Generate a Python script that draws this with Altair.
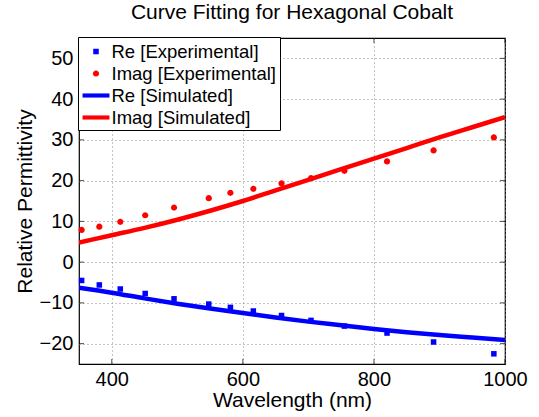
import altair as alt
import pandas as pd

# Experimental data
wl_exp = [354, 381, 413, 451, 495, 548, 581, 616, 659, 704, 755, 820, 891, 983]
re_exp = [-4.5, -5.6, -6.6, -7.7, -9.0, -10.3, -11.1, -12.0, -13.1, -14.3, -15.7, -17.4, -19.6, -22.5]
imag_exp = [7.9, 8.7, 9.9, 11.5, 13.4, 15.7, 17.0, 18.0, 19.3, 20.6, 22.4, 24.7, 27.4, 30.6]

# Simulated (fitted) curves
wl_sim = [350, 400, 450, 500, 550, 600, 650, 700, 750, 800, 850, 900, 950, 1000]
re_sim = [-6.3, -7.5, -8.9, -10.2, -11.4, -12.5, -13.6, -14.6, -15.5, -16.4, -17.2, -17.9, -18.5, -19.1]
imag_sim = [4.8, 6.6, 8.4, 10.4, 12.6, 15.0, 17.6, 20.2, 22.8, 25.4, 28.0, 30.6, 33.1, 35.6]

series_names = ["Re [Experimental]", "Imag [Experimental]", "Re [Simulated]", "Imag [Simulated]"]
series_colors = ["#0000ff", "#ff0000", "#0000ff", "#ff0000"]

x_ticks = [400, 600, 800, 1000]
y_ticks = [-20, -10, 0, 10, 20, 30, 40, 50]

FONT = "Liberation Sans"
W, H = 426, 326
SYM = 529  # symbol area shared by data markers and legend symbols

exp_df = pd.concat([
    pd.DataFrame({"wl": wl_exp, "val": re_exp, "series": series_names[0]}),
    pd.DataFrame({"wl": wl_exp, "val": imag_exp, "series": series_names[1]}),
])
re_sim_df = pd.DataFrame({"wl": wl_sim, "val": re_sim})
imag_sim_df = pd.DataFrame({"wl": wl_sim, "val": imag_sim})

xscale = alt.Scale(domain=[350, 1000], nice=False, zero=False)
yscale = alt.Scale(domain=[-25, 55], nice=False, zero=False)

xaxis = alt.Axis(values=x_ticks, title="Wavelength (nm)", grid=True, gridDash=[1, 3],
                 gridColor="#888888", ticks=False, domain=False, labelPadding=5,
                 titlePadding=0, labelFlush=False, format="d")
yaxis = alt.Axis(values=y_ticks, title="Relative Permittivity", grid=True, gridDash=[1, 3],
                 gridColor="#888888", ticks=False, domain=False, labelPadding=6,
                 titlePadding=4)

# custom symbol paths (unit = sqrt(SYM)/2 = 11.5 px)
line_path = "M-1.17,-0.18H1.17V0.18H-1.17Z"
square_path = "M-0.24,-0.24H0.24V0.24H-0.24Z"
circle_path = "M-0.27,0A0.27,0.27 0 1,0 0.27,0A0.27,0.27 0 1,0 -0.27,0Z"
shape_range = [square_path, circle_path, line_path, line_path]

leg = alt.Legend(title=None, orient="none", legendX=-1, legendY=-1,
                 fillColor="white", strokeColor="black", padding=3,
                 symbolSize=SYM, symbolOffset=3.5, labelOffset=4,
                 labelFontSize=18.5, labelFont=FONT, labelColor="black",
                 rowPadding=1, symbolStrokeWidth=0, labelLimit=300)

points = alt.Chart(exp_df).mark_point(filled=True, opacity=1).encode(
    x=alt.X("wl:Q", scale=xscale, axis=xaxis),
    y=alt.Y("val:Q", scale=yscale, axis=yaxis),
    color=alt.Color("series:N", scale=alt.Scale(domain=series_names, range=series_colors),
                    legend=leg),
    shape=alt.Shape("series:N", scale=alt.Scale(domain=series_names, range=shape_range),
                    legend=leg),
    size=alt.value(SYM),
)

re_line = alt.Chart(re_sim_df).mark_line(strokeWidth=4.5, interpolate="monotone", clip=True,
                                         color=series_colors[2]).encode(
    x=alt.X("wl:Q", scale=xscale),
    y=alt.Y("val:Q", scale=yscale),
)
imag_line = alt.Chart(imag_sim_df).mark_line(strokeWidth=4.5, interpolate="monotone", clip=True,
                                             color=series_colors[3]).encode(
    x=alt.X("wl:Q", scale=xscale),
    y=alt.Y("val:Q", scale=yscale),
)

xt_df = pd.DataFrame({"wl": x_ticks})
yt_df = pd.DataFrame({"val": y_ticks})
xt_bot = alt.Chart(xt_df).mark_tick(orient="vertical", size=5, thickness=1, color="black").encode(
    x=alt.X("wl:Q", scale=xscale), y=alt.value(H - 2.5))
xt_top = alt.Chart(xt_df).mark_tick(orient="vertical", size=5, thickness=1, color="black").encode(
    x=alt.X("wl:Q", scale=xscale), y=alt.value(2.5))
yt_left = alt.Chart(yt_df).mark_tick(orient="horizontal", size=5, thickness=1, color="black").encode(
    y=alt.Y("val:Q", scale=yscale), x=alt.value(2.5))
yt_right = alt.Chart(yt_df).mark_tick(orient="horizontal", size=5, thickness=1, color="black").encode(
    y=alt.Y("val:Q", scale=yscale), x=alt.value(W - 2.5))

chart = alt.layer(xt_bot, xt_top, yt_left, yt_right, re_line, imag_line, points).properties(
    width=W, height=H,
    title=alt.TitleParams("Curve Fitting for Hexagonal Cobalt", fontSize=21, font=FONT,
                          fontWeight="normal", anchor="middle", frame="group",
                          offset=14, color="black"),
    autosize=alt.AutoSizeParams(type="none"),
    padding={"left": 79, "top": 38, "right": 34, "bottom": 53},
    background="white",
).configure_view(
    stroke="black", strokeWidth=1.2
).configure_axis(
    labelFont=FONT, labelFontSize=20, labelColor="black",
    titleFont=FONT, titleFontSize=21, titleColor="black", titleFontWeight="normal"
)

chart.save("out.html", embed_options={"renderer": "svg", "actions": False})
